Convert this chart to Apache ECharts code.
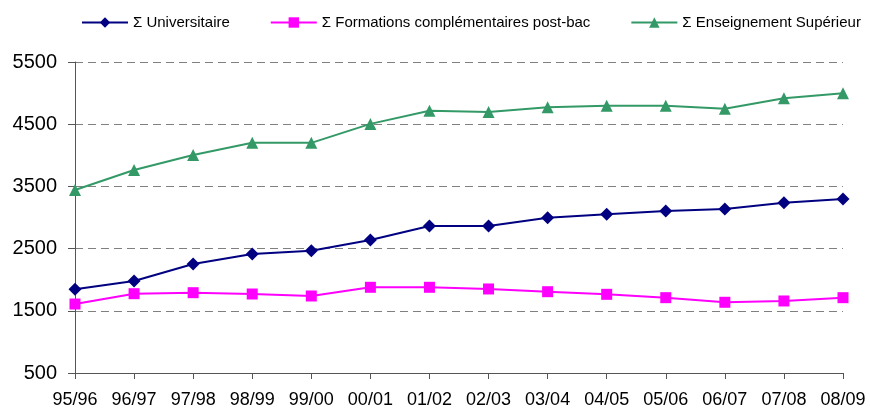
<!DOCTYPE html>
<html>
<head>
<meta charset="utf-8">
<script src="https://cdn.jsdelivr.net/npm/echarts@6/dist/echarts.min.js"></script>
<style>
  html, body { margin: 0; padding: 0; background: #fff; }
  #chart { width: 870px; height: 410px; }
</style>
</head>
<body>
<div id="chart"></div>
<script>
// annees
var years = ['95/96', '96/97', '97/98', '98/99', '99/00', '00/01', '01/02',
  '02/03', '03/04', '04/05', '05/06', '06/07', '07/08', '08/09'];

var universitaire = [1846, 1979, 2252, 2413, 2466, 2638, 2863, 2863, 2997, 3051, 3104, 3137, 3238, 3297];
var formations = [1609, 1775, 1791, 1770, 1738, 1878, 1878, 1851, 1807, 1765, 1711, 1637, 1658, 1711];
var superieur = [3442, 3764, 4005, 4203, 4200, 4505, 4717, 4696, 4772, 4797, 4797, 4749, 4916, 4997];

var yTicks = [500, 1500, 2500, 3500, 4500, 5500];

var chart = echarts.init(document.getElementById('chart'));
var font = 'Liberation Sans, Arial, sans-serif';

function serie(name, data, color, symbol, size) {
  return {
    name: name,
    type: 'line',
    data: data,
    symbol: symbol,
    symbolSize: size,
    showSymbol: true,
    lineStyle: { color: color, width: 2 },
    itemStyle: { color: color },
    emphasis: { disabled: true }
  };
}

chart.setOption({
  animation: false,
  textStyle: { fontFamily: font },
  legend: {
    top: 10,
    left: 76,
    itemWidth: 46,
    itemHeight: 13,
    itemGap: 40,
    lineStyle: { width: 2 },
    textStyle: { fontSize: 15, color: '#000', fontFamily: font },
    data: ['Σ Universitaire', 'Σ Formations complémentaires post-bac', 'Σ Enseignement Supérieur']
  },
  grid: { left: 75, right: 27, top: 62, bottom: 37 },
  xAxis: {
    type: 'category',
    data: years,
    boundaryGap: false,
    axisLine: { lineStyle: { color: '#555', width: 1 } },
    axisTick: { alignWithLabel: true, length: 6, lineStyle: { color: '#555' } },
    axisLabel: { fontSize: 18, color: '#000', margin: 18, fontFamily: font }
  },
  yAxis: {
    type: 'value',
    min: yTicks[0],
    max: yTicks[yTicks.length - 1],
    interval: 1000,
    axisLine: { show: true, lineStyle: { color: '#555', width: 1 } },
    axisTick: { show: true, inside: false, length: 7, lineStyle: { color: '#555' } },
    axisLabel: {
      fontSize: 20, color: '#000', margin: 18, fontFamily: font,
      formatter: function (v) { return String(v); }
    },
    splitLine: { lineStyle: { color: '#808080', type: [8, 5], width: 1 } }
  },
  series: [
    serie('Σ Universitaire', universitaire, '#000080', 'diamond', 13),
    serie('Σ Formations complémentaires post-bac', formations, '#ff00ff', 'rect', 11),
    serie('Σ Enseignement Supérieur', superieur, '#339966', 'triangle', 12)
  ]
});
</script>
</body>
</html>
